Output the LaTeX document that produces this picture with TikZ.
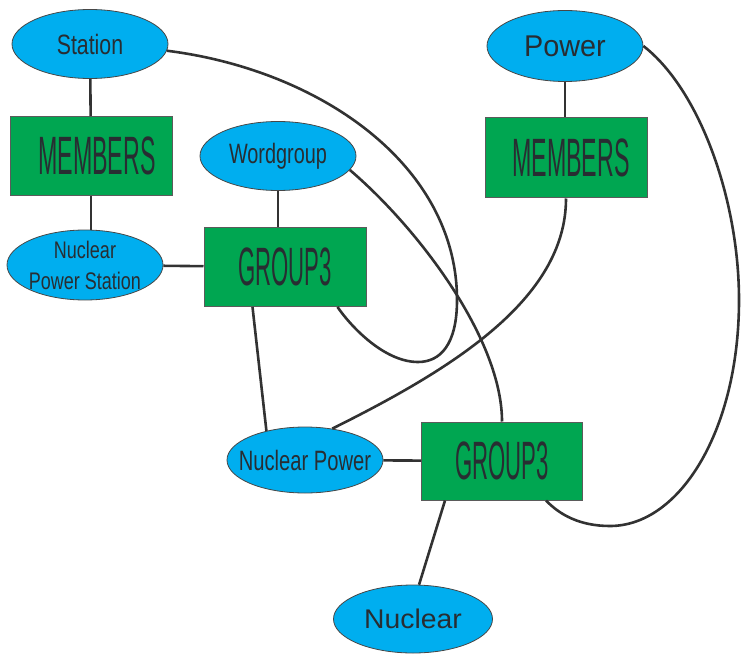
\documentclass[tikz,border=0pt]{standalone}
\usepackage{fontspec}
\setmainfont{Liberation Sans}
\usepackage{graphicx}
\usetikzlibrary{shapes.geometric}
\definecolor{cyanfill}{RGB}{0,174,239}
\definecolor{greenfill}{RGB}{0,166,81}
\definecolor{wire}{RGB}{50,50,50}
\definecolor{ink}{RGB}{40,45,50}
\newcommand{\narrow}[2]{\makebox[0pt]{\scalebox{#1}[1]{#2}}}
\begin{document}
\begin{tikzpicture}[x=1pt,y=-1pt,
  term/.style={ellipse,draw=wire!90,line width=0.8pt,fill=cyanfill,minimum width=156pt,minimum height=69pt,inner sep=0pt,text=ink},
  group/.style={rectangle,draw=wire!80,line width=1pt,fill=greenfill,minimum width=162pt,minimum height=79pt,inner sep=0pt,text=ink,font=\fontsize{54}{60}\selectfont},
  link/.style={draw=wire,line width=2.6pt}]
\useasboundingbox (0,0) rectangle (741,655);
\node[term,font=\fontsize{28}{34}\selectfont] (st) at (90,44) {\narrow{0.76}{Station}};
\node[group] (mem1) at (91,156) {\hspace{12pt}\narrow{0.43}{MEMBERS}};
\node[term,font=\fontsize{28}{34}\selectfont] (wg) at (278,156) {\narrow{0.71}{Wordgroup}};
\node[term,align=center,minimum height=70pt,font=\fontsize{24}{31}\selectfont] (nps) at (85,265) {\narrow{0.75}{Nuclear}\\\narrow{0.75}{Power Station}};
\node[group] (g1) at (285,267) {\narrow{0.41}{GROUP3}\hspace{4pt}};
\node[term,minimum height=71pt,font=\fontsize{30}{36}\selectfont] (pw) at (565,46) {\narrow{0.96}{Power}};
\node[group,minimum height=80pt] (mem2) at (566,158) {\hspace{10pt}\narrow{0.43}{MEMBERS}};
\node[term,minimum height=66pt,font=\fontsize{28}{34}\selectfont] (np) at (305,460) {\narrow{0.72}{Nuclear Power}};
\node[group,minimum width=161pt,minimum height=78pt] (g2) at (502,461) {\narrow{0.41}{GROUP3}\hspace{8pt}};
\node[term,minimum width=159pt,minimum height=68pt,font=\fontsize{27}{32}\selectfont] (nuc) at (413,619) {\narrow{1.05}{Nuclear}};
\draw[link] (st) -- (mem1);
\draw[link] (mem1.south) -- (mem1.south |- nps.north);
\draw[link] (nps) -- (g1);
\draw[link] (wg.south) -- (wg.south |- g1.north);
\draw[link] (pw.south) -- (pw.south |- mem2.north);
\draw[link] ([xshift=49pt]g1.south west) -- (np.143);
\draw[link] (np) -- (g2);
\draw[link] ([xshift=24pt]g2.south west) -- (nuc.80);
\draw[link] (st.-5) .. controls (320,70) and (457,165) .. (457,300) .. controls (457,345) and (440,362) .. (418,362) .. controls (385,362) and (352,328) .. ([xshift=-29pt]g1.south east);
\draw[link] (wg.349) .. controls (420,230) and (502,340) .. (g2.north);
\draw[link] (mem2.south) .. controls (566,300) and (450,370) .. (np.49);
\draw[link] (pw.east) .. controls (700,90) and (739,200) .. (739,300) .. controls (739,430) and (680,526) .. (610,526) .. controls (580,526) and (560,515) .. ([xshift=-37pt]g2.south east);
\end{tikzpicture}
\end{document}
